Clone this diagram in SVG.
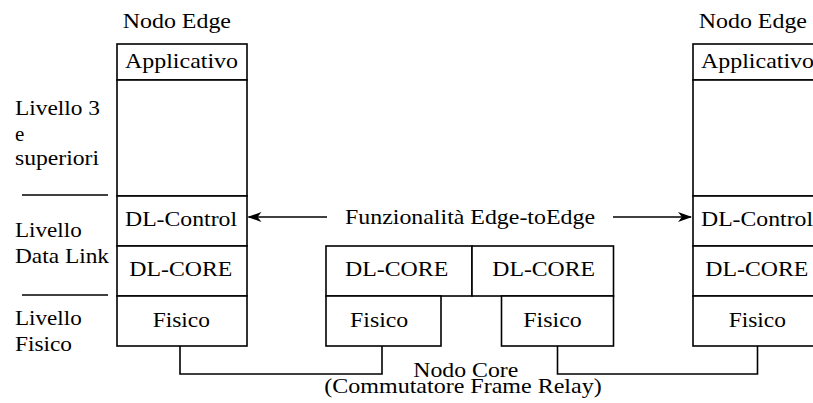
<svg xmlns="http://www.w3.org/2000/svg" width="813" height="403" viewBox="0 0 813 403" font-family="'Liberation Serif', 'Times New Roman', serif" font-size="21">
<style>
.b{fill:#fff;stroke:#000;stroke-width:1.6}
.l{fill:none;stroke:#000;stroke-width:1.6}
text{fill:#000}
</style>
<defs>
<marker id="ah" viewBox="0 0 14 10" refX="13" refY="5" markerWidth="14" markerHeight="10" markerUnits="userSpaceOnUse" orient="auto-start-reverse">
<path d="M0,0 L14,5 L0,10 L4,5 Z" fill="#000"/>
</marker>
</defs>
<rect width="813" height="403" fill="#fff"/>
<g id="labels">
<text x="15" y="115" textLength="85" lengthAdjust="spacingAndGlyphs">Livello 3</text>
<text x="15" y="141">e</text>
<text x="15" y="165" textLength="84" lengthAdjust="spacingAndGlyphs">superiori</text>
<line class="l" x1="22" y1="195" x2="108" y2="195"/>
<text x="15" y="237" textLength="66.7" lengthAdjust="spacingAndGlyphs">Livello</text>
<text x="15" y="263" textLength="94" lengthAdjust="spacingAndGlyphs">Data Link</text>
<line class="l" x1="22" y1="295" x2="108" y2="295"/>
<text x="15" y="325" textLength="66.7" lengthAdjust="spacingAndGlyphs">Livello</text>
<text x="15" y="351" textLength="57" lengthAdjust="spacingAndGlyphs">Fisico</text>
</g>
<g id="edge-left">
<text x="122.7" y="28" textLength="108.3" lengthAdjust="spacingAndGlyphs">Nodo Edge</text>
<rect class="b" x="117" y="44" width="130" height="36"/>
<rect class="b" x="117" y="80" width="130" height="116"/>
<rect class="b" x="117" y="196" width="130" height="50"/>
<rect class="b" x="117" y="246" width="130" height="50"/>
<rect class="b" x="117" y="296" width="130" height="50"/>
<text x="125" y="67.5" textLength="113" lengthAdjust="spacingAndGlyphs">Applicativo</text>
<text x="125" y="226" textLength="112" lengthAdjust="spacingAndGlyphs">DL-Control</text>
<text x="129.3" y="276" textLength="103" lengthAdjust="spacingAndGlyphs">DL-CORE</text>
<text x="152.7" y="327" textLength="57.3" lengthAdjust="spacingAndGlyphs">Fisico</text>
</g>
<g id="core">
<rect class="b" x="326" y="246" width="146" height="50"/>
<rect class="b" x="472" y="246" width="141.5" height="50"/>
<rect class="b" x="326" y="296" width="115" height="50"/>
<rect class="b" x="501.5" y="296" width="112" height="50"/>
<text x="345" y="276" textLength="103.3" lengthAdjust="spacingAndGlyphs">DL-CORE</text>
<text x="492.3" y="276" textLength="102.7" lengthAdjust="spacingAndGlyphs">DL-CORE</text>
<text x="350" y="327" textLength="58.3" lengthAdjust="spacingAndGlyphs">Fisico</text>
<text x="523.3" y="327" textLength="58.4" lengthAdjust="spacingAndGlyphs">Fisico</text>
<text x="413.3" y="376.5" textLength="105" lengthAdjust="spacingAndGlyphs">Nodo Core</text>
<text x="324.3" y="393" textLength="277.4" lengthAdjust="spacingAndGlyphs">(Commutatore Frame Relay)</text>
</g>
<g id="edge-right">
<text x="698.7" y="28" textLength="108.3" lengthAdjust="spacingAndGlyphs">Nodo Edge</text>
<rect class="b" x="693" y="44" width="130" height="36"/>
<rect class="b" x="693" y="80" width="130" height="116"/>
<rect class="b" x="693" y="196" width="130" height="50"/>
<rect class="b" x="693" y="246" width="130" height="50"/>
<rect class="b" x="693" y="296" width="130" height="50"/>
<text x="701" y="67.5" textLength="113" lengthAdjust="spacingAndGlyphs">Applicativo</text>
<text x="701" y="226" textLength="112" lengthAdjust="spacingAndGlyphs">DL-Control</text>
<text x="705.3" y="276" textLength="103" lengthAdjust="spacingAndGlyphs">DL-CORE</text>
<text x="728.7" y="327" textLength="57.3" lengthAdjust="spacingAndGlyphs">Fisico</text>
</g>
<g id="connectors">
<polyline class="l" points="180,346 180,374 382,374 382,346"/>
<polyline class="l" points="557.5,346 557.5,374 757.5,374 757.5,346"/>
<line class="l" x1="327" y1="217" x2="248.5" y2="217" marker-end="url(#ah)"/>
<line class="l" x1="613" y1="217" x2="691" y2="217" marker-end="url(#ah)"/>
<text x="345" y="223.5" textLength="250" lengthAdjust="spacingAndGlyphs">Funzionalità Edge-toEdge</text>
</g>
</svg>
